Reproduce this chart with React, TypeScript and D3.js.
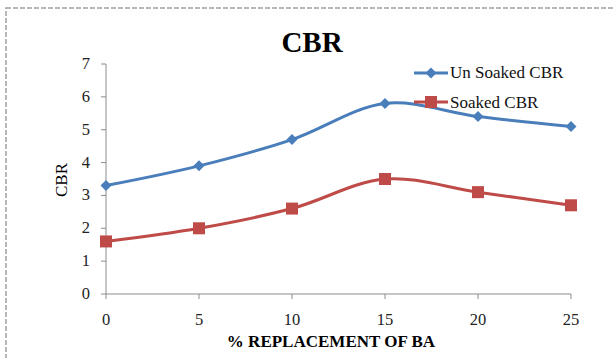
import React from "react";
import * as d3 from "d3";

const replacement = [0, 5, 10, 15, 20, 25];
const unSoaked = [3.3, 3.9, 4.7, 5.8, 5.4, 5.1];
const soaked = [1.6, 2.0, 2.6, 3.5, 3.1, 2.7];
const yTicks = [0, 1, 2, 3, 4, 5, 6, 7];
const xTicks = [0, 5, 10, 15, 20, 25];

const BLUE = "#4A7EBB";
const RED = "#BE4B48";
const AXIS = "#8c8c8c";
const FONT = "Liberation Serif";

export default function App() {
  const W = 614;
  const H = 358;
  const x = d3.scaleLinear().domain([0, 25]).range([106, 571]);
  const y = d3.scaleLinear().domain([0, 7]).range([294, 64]);

  const line = d3
    .line<number>()
    .x((_, i) => x(replacement[i]))
    .y((d) => y(d))
    .curve(d3.curveCatmullRom.alpha(0.5));

  const diamond = (cx: number, cy: number, r: number) =>
    `M${cx},${cy - r}L${cx + r},${cy}L${cx},${cy + r}L${cx - r},${cy}Z`;

  const txt = { fontFamily: FONT };

  return (
    <svg
      width={W}
      height={H}
      style={{ position: "absolute", left: 0, top: 0, background: "#fff", fontFamily: FONT }}
    >
      <rect
        x={6}
        y={8}
        width={640}
        height={400}
        fill="none"
        stroke="#a0a0a0"
        strokeWidth={1.5}
        strokeDasharray="5,2"
      />
      <text
        x={312}
        y={52}
        textAnchor="middle"
        style={txt}
        fontWeight="bold"
        fontSize={29}
        fill="#000"
      >
        CBR
      </text>

      {/* y axis */}
      <line x1={x(0)} x2={x(0)} y1={y(0)} y2={y(7)} stroke={AXIS} strokeWidth={1} />
      {yTicks.map((t) => (
        <g key={"y" + t}>
          <line x1={x(0) - 5} x2={x(0)} y1={y(t)} y2={y(t)} stroke={AXIS} />
          <text
            x={x(0) - 16}
            y={y(t) + 5}
            textAnchor="end"
            style={txt}
            fontSize={16.5}
            fill="#222"
          >
            {t}
          </text>
        </g>
      ))}
      {/* x axis */}
      <line x1={x(0)} x2={x(25)} y1={y(0)} y2={y(0)} stroke={AXIS} strokeWidth={1} />
      {xTicks.map((t) => (
        <g key={"x" + t}>
          <line x1={x(t)} x2={x(t)} y1={y(0)} y2={y(0) + 5} stroke={AXIS} />
          <text
            x={x(t)}
            y={325}
            textAnchor="middle"
            style={txt}
            fontSize={16.5}
            fill="#222"
          >
            {t}
          </text>
        </g>
      ))}

      <text
        transform={`translate(67,180) rotate(-90)`}
        textAnchor="middle"
        style={txt}
        fontSize={17}
        fill="#000"
      >
        CBR
      </text>
      <text
        x={331}
        y={347}
        textAnchor="middle"
        style={txt}
        fontWeight="bold"
        fontSize={17}
        fill="#000"
      >
        % REPLACEMENT OF BA
      </text>

      {/* series */}
      <path d={line(unSoaked) || ""} fill="none" stroke={BLUE} strokeWidth={3} />
      {unSoaked.map((v, i) => (
        <path key={"u" + i} d={diamond(x(replacement[i]), y(v), 5.5)} fill={BLUE} />
      ))}
      <path d={line(soaked) || ""} fill="none" stroke={RED} strokeWidth={3} />
      {soaked.map((v, i) => (
        <rect
          key={"s" + i}
          x={x(replacement[i]) - 6}
          y={y(v) - 6}
          width={12}
          height={12}
          fill={RED}
        />
      ))}

      {/* legend */}
      <line x1={414} x2={448} y1={73} y2={73} stroke={BLUE} strokeWidth={3} />
      <path d={diamond(431, 73, 5.5)} fill={BLUE} />
      <text x={450} y={78} style={txt} fontSize={17} fill="#111">
        Un Soaked CBR
      </text>
      <line x1={414} x2={448} y1={102} y2={102} stroke={RED} strokeWidth={3} />
      <rect x={425} y={96} width={12} height={12} fill={RED} />
      <text x={450} y={108} style={txt} fontSize={17} fill="#111">
        Soaked CBR
      </text>
    </svg>
  );
}
